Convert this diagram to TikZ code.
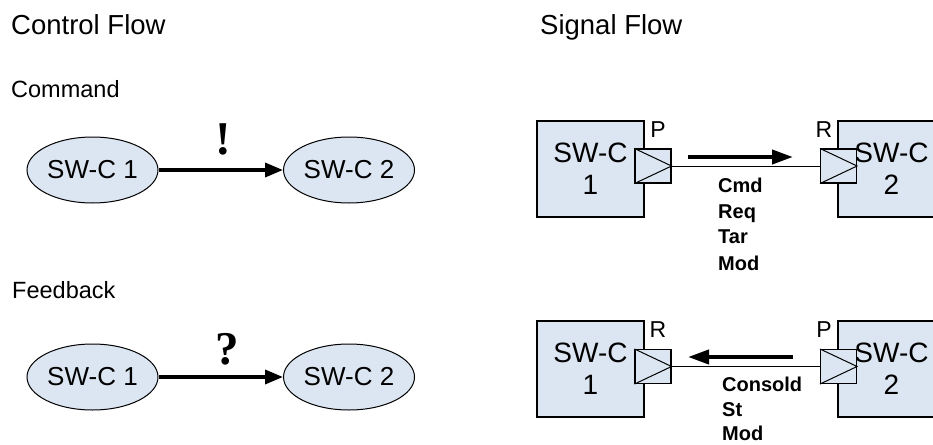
\documentclass[tikz,border=0pt]{standalone}
\usepackage{fontspec}
\setmainfont{Liberation Sans}
\newfontfamily\serifb{Liberation Serif}
\usetikzlibrary{shapes.geometric,arrows.meta}
\definecolor{swfill}{RGB}{220,230,242}
\begin{document}
\begin{tikzpicture}[x=1pt,y=-1pt,
  title/.style={anchor=base west,inner sep=0,font=\fontsize{27.5}{33}\selectfont},
  sub/.style={anchor=base west,inner sep=0,font=\fontsize{23.5}{28}\selectfont},
  swell/.style={ellipse,draw,line width=1pt,fill=swfill,minimum width=131,minimum height=66,inner sep=0,font=\fontsize{26}{31}\selectfont},
  swbox/.style={rectangle,draw,line width=1.1pt,fill=swfill,minimum width=107,minimum height=96,inner sep=0,align=center,font=\fontsize{28}{32}\selectfont},
  port/.style={rectangle,draw,line width=1.1pt,fill=swfill,minimum width=36,minimum height=34,inner sep=0},
  portlbl/.style={anchor=base,inner sep=0,font=\fontsize{23}{27}\selectfont},
  sig/.style={anchor=base west,inner sep=0,font=\fontsize{20}{24}\selectfont\bfseries},
  ctrl/.style={line width=3.5pt,-{Triangle[length=18pt,width=14pt]}},
  flow/.style={line width=4pt,-{Triangle[length=21pt,width=14pt]}},
  flowmark/.style={anchor=base,inner sep=0,font=\fontsize{47}{50}\serifb\bfseries}
]
\useasboundingbox (0,0) rectangle (933,444);
% titles
\node[title] (t1) at (11,35) {Control Flow};
\node[title] (t2) at (540,35) {Signal Flow};
\node[sub] (s1) at (11,97) {Command};
\node[sub] (s2) at (12,298) {Feedback};
% control flow
\node[swell] (a1) at (92.5,170) {SW-C 1};
\node[swell] (a2) at (349,170) {SW-C 2};
\draw[ctrl] (a1) -- (a2);
\node[flowmark] (ex) at (223,154) {!};
\node[swell] (b1) at (92.5,377) {SW-C 1};
\node[swell] (b2) at (349,377) {SW-C 2};
\draw[ctrl] (b1) -- (b2);
\node[flowmark] (qu) at (227,364) {?};
% signal flow row 1
\node[swbox] (c1) at (590.5,169) {SW-C\\1};
\node[swbox] (c2) at (891.5,169) {SW-C\\2};
\node[port] (p1) at (653,166) {};
\node[port] (p2) at (838.5,166) {};
\draw[line width=1pt] (p1.north west) -- (p1.east) -- (p1.south west);
\draw[line width=1pt] (p2.north west) -- (p2.east) -- (p2.south west);
\draw[line width=1pt] (p1.east) -- (p2.west);
\node[portlbl] (pl1) at (658,137) {P};
\node[portlbl] (pl2) at (824,137) {R};
\coordinate (fa1) at (688,157);
\coordinate (fa2) at (793,157);
\draw[flow] (fa1) -- (fa2);
\node[sig] (l1) at (718,192) {Cmd};
\node[sig] (l2) at (718,218) {Req};
\node[sig] (l3) at (718,243) {Tar};
\node[sig] (l4) at (718,270) {Mod};
% signal flow row 2
\node[swbox] (d1) at (590.5,369) {SW-C\\1};
\node[swbox] (d2) at (891.5,369) {SW-C\\2};
\node[port] (q1) at (653,366.5) {};
\node[port] (q2) at (838.5,366.5) {};
\draw[line width=1pt] (q1.north west) -- (q1.east) -- (q1.south west);
\draw[line width=1pt] (q2.north west) -- (q2.east) -- (q2.south west);
\draw[line width=1pt] (q1.east) -- (q2.west);
\node[portlbl] (ql1) at (658,337) {R};
\node[portlbl] (ql2) at (824,337) {P};
\coordinate (fb1) at (793,357);
\coordinate (fb2) at (688,357);
\draw[flow] (fb1) -- (fb2);
\node[sig] (m1) at (722,391) {Consold};
\node[sig] (m2) at (722,416) {St};
\node[sig] (m3) at (722,440) {Mod};
\end{tikzpicture}
\end{document}
